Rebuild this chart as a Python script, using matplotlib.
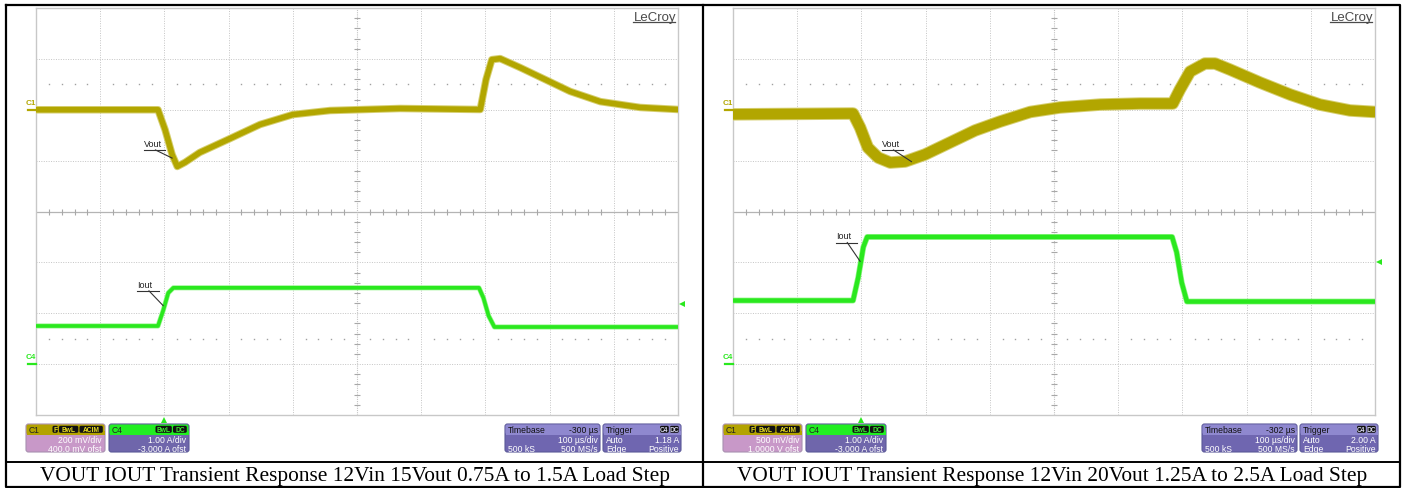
import numpy as np
import matplotlib
matplotlib.use('Agg')
import matplotlib.pyplot as plt
from matplotlib.patches import FancyBboxPatch, Rectangle

W, H = 1405, 489

# time in us relative to trigger, Vout as AC deviation in mV, Iout in A
left_vout_t = [-200, -10, 1, 12, 20, 32, 55, 99, 149, 200, 258, 367, 492, 501, 510, 523, 554, 593, 632, 679, 741, 800]
left_vout_mv = [0, 0, -78, -176, -223, -207, -168, -117, -58, -19, -3, 5, 1, 119, 197, 201, 166, 119, 72, 32, 9, 1]
left_iout_t = [-200, -10, -2, 6, 14, 490, 497, 505, 514, 800]
left_iout_a = [0.75, 0.75, 1.05, 1.4, 1.5, 1.5, 1.3, 0.95, 0.73, 0.73]

right_vout_t = [-200, -13, -2, 10, 26, 45, 68, 99, 138, 177, 216, 263, 309, 372, 434, 485,
                496, 512, 535, 551, 574, 621, 668, 714, 761, 800]
right_vout_mv = [-45, -37, -175, -371, -470, -519, -509, -440, -322, -204, -116, -22, 22, 51, 61, 61,
                 198, 375, 454, 454, 395, 267, 149, 51, -7, -22]
right_iout_t = [-200, -13, -5, 3, 9, 484, 491, 499, 507, 800]
right_iout_a = [1.25, 1.25, 1.7, 2.3, 2.5, 2.5, 2.2, 1.6, 1.23, 1.23]

captions = ["VOUT IOUT Transient Response 12Vin 15Vout 0.75A to 1.5A Load Step",
            "VOUT IOUT Transient Response 12Vin 20Vout 1.25A to 2.5A Load Step"]

panels = [
    dict(x0=36, vt=left_vout_t, vmv=left_vout_mv, it=left_iout_t, ia=left_iout_a,
         vdiv=200, voff=400, idiv=1.0, ioff=-3.0, trig_level=1.18, vlw=4.0, ilw=2.6,
         c1_text=["200 mV/div", "400.0 mV ofst"], c4_text=["1.00 A/div", "-3.000 A ofst"],
         tb_delay="-300 µs", trig_text="1.18 A",
         vout_lbl=(1.68, 1.25), vout_tip=(2.12, 1.05), iout_lbl=(1.58, -1.52), iout_tip=(1.98, -1.85)),
    dict(x0=733, vt=right_vout_t, vmv=right_vout_mv, it=right_iout_t, ia=right_iout_a,
         vdiv=500, voff=1000, idiv=1.0, ioff=-3.0, trig_level=2.00, vlw=7.6, ilw=3.2,
         c1_text=["500 mV/div", "1.0000 V ofst"], c4_text=["1.00 A/div", "-3.000 A ofst"],
         tb_delay="-302 µs", trig_text="2.00 A",
         vout_lbl=(2.32, 1.25), vout_tip=(2.78, 0.98), iout_lbl=(1.6, -0.57), iout_tip=(1.98, -0.98)),
]

YELLOW = '#b2a600'
YELLOW_LT = '#d6cf70'
GREEN = '#2ae81e'
GREEN_LT = '#92f588'
GRID = '#c4c4c4'
SANS = 'Liberation Sans'


def draw_scope(fig, p):
    x0 = p['x0']
    ax = fig.add_axes([x0 / W, (H - 416) / H, 642 / W, 407 / H])
    ax.set_xlim(0, 10)
    ax.set_ylim(-4, 4)
    ax.set_xticks([])
    ax.set_yticks([])
    for s in ax.spines.values():
        s.set_color('#c8c8c8')
        s.set_linewidth(1.0)

    # graticule
    for i in range(1, 10):
        if i != 5:
            ax.axvline(i, color=GRID, lw=0.7, ls=(0, (1, 1.5)), zorder=1)
    for j in range(-3, 4):
        if j != 0:
            ax.axhline(j, color=GRID, lw=0.7, ls=(0, (1, 1.5)), zorder=1)
    ax.axhline(0, color='#b4b4b4', lw=0.9, zorder=1)
    ax.axvline(5, color='#c4c4c4', lw=0.8, ls=(0, (1, 1)), zorder=1)
    minor = np.arange(0.2, 10, 0.2)
    minor = minor[np.abs(minor - np.round(minor)) > 0.05]
    ax.plot(minor, np.zeros_like(minor), ls='none', marker='|', ms=5, mew=0.8, color='#a8a8a8', zorder=1)
    vminor = np.arange(-3.8, 4, 0.2)
    vminor = vminor[np.abs(vminor - np.round(vminor)) > 0.05]
    ax.plot(np.full_like(vminor, 5), vminor, ls='none', marker='_', ms=5, mew=0.8, color='#a8a8a8', zorder=1)
    for yy in (2.5, -2.5):
        ax.plot(minor, np.full_like(minor, yy), ls='none', marker='s', ms=1.0, mew=0, color='#a0a0a0', zorder=1)

    # traces
    tx_v = 2 + np.array(p['vt']) / 100.0
    ty_v = (np.array(p['vmv']) + p['voff']) / p['vdiv']
    tx_i = 2 + np.array(p['it']) / 100.0
    ty_i = (np.array(p['ia']) + p['ioff']) / p['idiv']
    ax.plot(tx_v, ty_v, color=YELLOW_LT, lw=p['vlw'] + 1.4, solid_joinstyle='round', zorder=3)
    ax.plot(tx_v, ty_v, color=YELLOW, lw=p['vlw'], solid_joinstyle='round', zorder=4)
    ax.plot(tx_i, ty_i, color=GREEN_LT, lw=p['ilw'] + 1.0, solid_joinstyle='round', zorder=3)
    ax.plot(tx_i, ty_i, color=GREEN, lw=p['ilw'], solid_joinstyle='round', zorder=4)

    # channel ground markers
    c1y = p['voff'] / p['vdiv']
    c4y = p['ioff'] / p['idiv']
    for yy, col, lbl in ((c1y, YELLOW, 'C1'), (c4y, GREEN, 'C4')):
        ax.plot([-0.13, 0], [yy, yy], color=col, lw=1.6, clip_on=False, zorder=5)
        ax.text(-0.16, yy + 0.08, lbl, color=col, fontsize=5.8, family=SANS, fontweight='bold',
                ha='left', va='bottom', clip_on=False)

    # trigger markers
    ax.plot([2], [-4.1], marker='^', ms=5, color=GREEN, mew=0, clip_on=False, zorder=5)
    ax.plot([10.07], [(p['trig_level'] + p['ioff']) / p['idiv']], marker='<', ms=5, color=GREEN, mew=0,
            clip_on=False, zorder=5)

    # trace labels
    for (lx, ly), (tx, ty), txt in ((p['vout_lbl'], p['vout_tip'], 'Vout'), (p['iout_lbl'], p['iout_tip'], 'Iout')):
        ax.text(lx, ly, txt, fontsize=6.5, family=SANS, color='#222222', ha='left', va='bottom', zorder=6)
        ax.plot([lx, lx + 0.33], [ly - 0.04, ly - 0.04], color='#333333', lw=0.8, zorder=6)
        ax.plot([lx + 0.18, tx], [ly - 0.04, ty], color='#333333', lw=0.8, zorder=6)

    ax.text(9.97, 3.95, 'LeCroy', fontsize=9.5, family=SANS, color='#4a4a4a', ha='right', va='top', zorder=6)
    ax.plot([9.3, 9.96], [3.73, 3.73], color='#4a4a4a', lw=0.9, zorder=6)
    return ax


def box(ov, x, w, head_col, body_col, edge):
    y, h = 425, 28
    ov.add_patch(FancyBboxPatch((x, y), w, h, boxstyle='round,pad=0,rounding_size=2.5',
                                fc=body_col, ec=edge, lw=0.8))
    ov.add_patch(FancyBboxPatch((x + 0.5, y + 0.5), w - 1, 10, boxstyle='round,pad=0,rounding_size=2',
                                fc=head_col, ec='none'))
    ov.add_patch(Rectangle((x + 0.5, y + 7), w - 1, 3.6, fc=head_col, ec='none'))


def badges(ov, right, items, txt_col):
    x = right
    for t, bw in reversed(items):
        x -= bw
        ov.add_patch(FancyBboxPatch((x, 426.8), bw - 1.2, 7, boxstyle='round,pad=0,rounding_size=1.5',
                                    fc='#111111', ec='none'))
        ov.text(x + (bw - 1.2) / 2, 430.5, t, fontsize=4.8, family=SANS, fontweight='bold',
                color=txt_col, ha='center', va='center')


def draw_boxes(ov, p, shift):
    fs = 6.2
    # C1
    x = 26 + shift
    box(ov, x, 79, '#b3a300', '#c898c8', '#a890b0')
    ov.text(x + 3, 430.5, 'C1', fontsize=fs, family=SANS, color='#222222', va='center')
    badges(ov, x + 78, [('F', 6.5), ('BwL', 20.5), ('ACIM', 24.5)], '#e8dc20')
    ov.text(x + 76, 440.5, p['c1_text'][0], fontsize=fs, family=SANS, color='white', ha='right', va='center')
    ov.text(x + 76, 449, p['c1_text'][1], fontsize=fs, family=SANS, color='white', ha='right', va='center')
    # C4
    x = 109 + shift
    box(ov, x, 80, '#22ee22', '#6f66ab', '#5a5898')
    ov.text(x + 3, 430.5, 'C4', fontsize=fs, family=SANS, color='#222222', va='center')
    badges(ov, x + 79, [('BwL', 17.5), ('DC', 15)], '#3cf030')
    ov.text(x + 77, 440.5, p['c4_text'][0], fontsize=fs, family=SANS, color='white', ha='right', va='center')
    ov.text(x + 77, 449, p['c4_text'][1], fontsize=fs, family=SANS, color='white', ha='right', va='center')
    # Timebase
    x = 505 + shift
    box(ov, x, 95, '#8f88cf', '#6f66b0', '#5a5898')
    ov.text(x + 3, 430.5, 'Timebase', fontsize=fs, family=SANS, color='#111111', va='center')
    ov.text(x + 93, 430.5, p['tb_delay'], fontsize=fs, family=SANS, color='#111111', ha='right', va='center')
    ov.text(x + 93, 440.5, '100 µs/div', fontsize=fs, family=SANS, color='white', ha='right', va='center')
    ov.text(x + 3, 449, '500 kS', fontsize=fs, family=SANS, color='white', va='center')
    ov.text(x + 93, 449, '500 MS/s', fontsize=fs, family=SANS, color='white', ha='right', va='center')
    # Trigger
    x = 603 + shift
    box(ov, x, 78, '#8f88cf', '#6f66b0', '#5a5898')
    ov.text(x + 3, 430.5, 'Trigger', fontsize=fs, family=SANS, color='#111111', va='center')
    badges(ov, x + 77, [('C4', 10), ('DC', 10)], '#d8d8f0')
    ov.text(x + 3, 440.5, 'Auto', fontsize=fs, family=SANS, color='white', va='center')
    ov.text(x + 76, 440.5, p['trig_text'], fontsize=fs, family=SANS, color='white', ha='right', va='center')
    ov.text(x + 3, 449, 'Edge', fontsize=fs, family=SANS, color='white', va='center')
    ov.text(x + 76, 449, 'Positive', fontsize=fs, family=SANS, color='white', ha='right', va='center')


fig = plt.figure(figsize=(W / 100, H / 100), dpi=100)
ov = fig.add_axes([0, 0, 1, 1], zorder=0)
ov.set_xlim(0, W)
ov.set_ylim(H, 0)
ov.axis('off')

for k, p in enumerate(panels):
    draw_scope(fig, p)
    draw_boxes(ov, p, p['x0'] - 36)

# table borders
ov.plot([6, 1400, 1400, 6, 6], [5.5, 5.5, 488, 488, 5.5], color='black', lw=1.6)
ov.plot([703, 703], [5.5, 488], color='black', lw=1.6)
ov.plot([6, 1400], [463, 463], color='black', lw=1.4)

for k, cap in enumerate(captions):
    cx = 355 if k == 0 else 1052
    ov.text(cx, 476.5, cap, fontsize=15.4, family='Liberation Serif', color='black', ha='center', va='center')

fig.savefig('out.png', dpi=100)
